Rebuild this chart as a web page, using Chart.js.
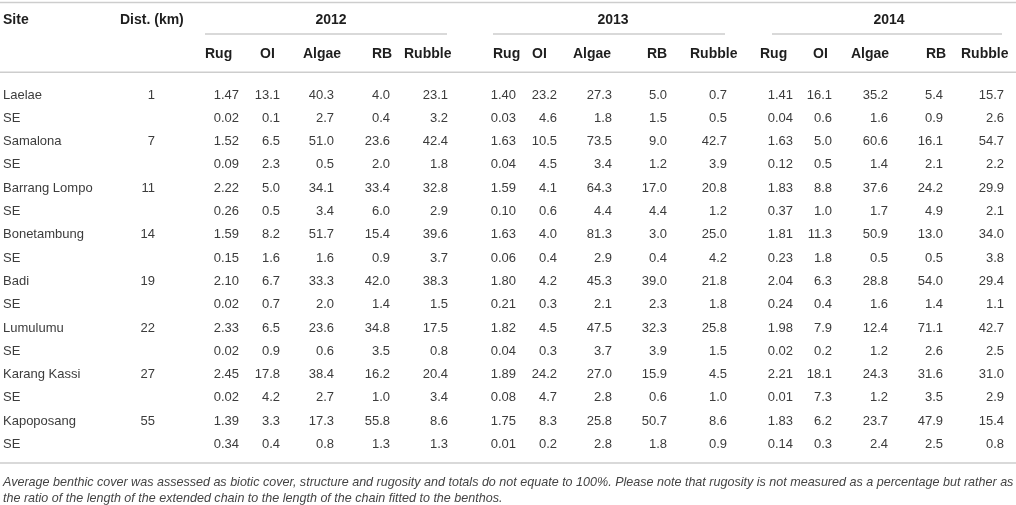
<!DOCTYPE html>
<html>
<head>
<meta charset="utf-8">
<script src="https://cdn.jsdelivr.net/npm/chart.js@4/dist/chart.umd.min.js"></script>
<style>
  html, body { margin: 0; padding: 0; background: #ffffff; }
  #wrap { width: 1016px; height: 505px; }
  canvas { display: block; }
</style>
</head>
<body>
<div id="wrap"><canvas id="c" width="1016" height="505" style="width:1016px;height:505px"></canvas></div>
<script>
// ---------------- DATA ----------------
const sites = ["Laelae", "Samalona", "Barrang Lompo", "Bonetambung", "Badi", "Lumulumu", "Karang Kassi", "Kapoposang"];
const distKm = [1, 7, 11, 14, 19, 22, 27, 55];
const years = ["2012", "2013", "2014"];
const measures = ["Rug", "OI", "Algae", "RB", "Rubble"];
const seLabel = "SE";
const headSite = "Site";
const headDist = "Dist. (km)";

// rows = sites; columns = Rug, OI, Algae, RB, Rubble
const mean2012 = [
  [1.47, 13.1, 40.3, 4.0, 23.1],
  [1.52, 6.5, 51.0, 23.6, 42.4],
  [2.22, 5.0, 34.1, 33.4, 32.8],
  [1.59, 8.2, 51.7, 15.4, 39.6],
  [2.10, 6.7, 33.3, 42.0, 38.3],
  [2.33, 6.5, 23.6, 34.8, 17.5],
  [2.45, 17.8, 38.4, 16.2, 20.4],
  [1.39, 3.3, 17.3, 55.8, 8.6]
];
const se2012 = [
  [0.02, 0.1, 2.7, 0.4, 3.2],
  [0.09, 2.3, 0.5, 2.0, 1.8],
  [0.26, 0.5, 3.4, 6.0, 2.9],
  [0.15, 1.6, 1.6, 0.9, 3.7],
  [0.02, 0.7, 2.0, 1.4, 1.5],
  [0.02, 0.9, 0.6, 3.5, 0.8],
  [0.02, 4.2, 2.7, 1.0, 3.4],
  [0.34, 0.4, 0.8, 1.3, 1.3]
];
const mean2013 = [
  [1.40, 23.2, 27.3, 5.0, 0.7],
  [1.63, 10.5, 73.5, 9.0, 42.7],
  [1.59, 4.1, 64.3, 17.0, 20.8],
  [1.63, 4.0, 81.3, 3.0, 25.0],
  [1.80, 4.2, 45.3, 39.0, 21.8],
  [1.82, 4.5, 47.5, 32.3, 25.8],
  [1.89, 24.2, 27.0, 15.9, 4.5],
  [1.75, 8.3, 25.8, 50.7, 8.6]
];
const se2013 = [
  [0.03, 4.6, 1.8, 1.5, 0.5],
  [0.04, 4.5, 3.4, 1.2, 3.9],
  [0.10, 0.6, 4.4, 4.4, 1.2],
  [0.06, 0.4, 2.9, 0.4, 4.2],
  [0.21, 0.3, 2.1, 2.3, 1.8],
  [0.04, 0.3, 3.7, 3.9, 1.5],
  [0.08, 4.7, 2.8, 0.6, 1.0],
  [0.01, 0.2, 2.8, 1.8, 0.9]
];
const mean2014 = [
  [1.41, 16.1, 35.2, 5.4, 15.7],
  [1.63, 5.0, 60.6, 16.1, 54.7],
  [1.83, 8.8, 37.6, 24.2, 29.9],
  [1.81, 11.3, 50.9, 13.0, 34.0],
  [2.04, 6.3, 28.8, 54.0, 29.4],
  [1.98, 7.9, 12.4, 71.1, 42.7],
  [2.21, 18.1, 24.3, 31.6, 31.0],
  [1.83, 6.2, 23.7, 47.9, 15.4]
];
const se2014 = [
  [0.04, 0.6, 1.6, 0.9, 2.6],
  [0.12, 0.5, 1.4, 2.1, 2.2],
  [0.37, 1.0, 1.7, 4.9, 2.1],
  [0.23, 1.8, 0.5, 0.5, 3.8],
  [0.24, 0.4, 1.6, 1.4, 1.1],
  [0.02, 0.2, 1.2, 2.6, 2.5],
  [0.01, 7.3, 1.2, 3.5, 2.9],
  [0.14, 0.3, 2.4, 2.5, 0.8]
];
const decimals = [2, 1, 1, 1, 1];
const footnoteLines = [
  "Average benthic cover was assessed as biotic cover, structure and rugosity and totals do not equate to 100%. Please note that rugosity is not measured as a percentage but rather as",
  "the ratio of the length of the extended chain to the length of the chain fitted to the benthos."
];

// ---------------- LAYOUT (positions / styles) ----------------
const L = {
  width: 1016,
  yMin: -4.08, yMax: 17.6,          // row units: data rows are 0..15
  topRule: -3.97, headRow1: -3.22, yearRule: -2.62, headRow2: -1.74, headRule: -0.98,
  bottomRule: 15.8, foot1: 16.62, foot2: 17.3,
  siteX: 3, distHeadX: 120, distRight: 155, footX: 3,
  valueRight: [[239, 280, 334, 390, 448], [516, 557, 612, 667, 727], [793, 832, 888, 943, 1004]],
  headLeft:   [[205, 260, 303, 372, 404], [493, 532, 573, 647, 690], [760, 813, 851, 926, 961]],
  yearSpan:   [[205, 447], [493, 725], [772, 1002]],
  yearCenter: [331, 613, 889],
  ruleColor: "#cdcdcd", ruleWidth: 1.6,
  bodyFont: "13px 'Liberation Sans', Arial, Helvetica, sans-serif",
  headFont: "bold 14px 'Liberation Sans', Arial, Helvetica, sans-serif",
  footFont: "italic 12.55px 'Liberation Sans', Arial, Helvetica, sans-serif",
  bodyColor: "#3c3c3c", headColor: "#1e1e1e", footColor: "#444444"
};

const meansByYear = [mean2012, mean2013, mean2014];
const seByYear = [se2012, se2013, se2014];

// ---------------- DATASETS ----------------
const datasets = [];
function textSet(points, texts, align, font, color) {
  datasets.push({ data: points, text: texts, align, font, color, pointRadius: 0, pointHoverRadius: 0, showLine: false });
}
function ruleSet(x0, x1, y) {
  datasets.push({ data: [{ x: x0, y }, { x: x1, y }], showLine: true, borderColor: L.ruleColor,
    borderWidth: L.ruleWidth, pointRadius: 0, pointHoverRadius: 0, fill: false });
}

// rules
ruleSet(0, L.width, L.topRule);
ruleSet(0, L.width, L.headRule);
ruleSet(0, L.width, L.bottomRule);
years.forEach((y, yi) => ruleSet(L.yearSpan[yi][0], L.yearSpan[yi][1], L.yearRule));

// header texts
textSet([{ x: L.siteX, y: L.headRow1 }], [headSite], "left", L.headFont, L.headColor);
textSet([{ x: L.distHeadX, y: L.headRow1 }], [headDist], "left", L.headFont, L.headColor);
textSet(years.map((y, yi) => ({ x: L.yearCenter[yi], y: L.headRow1 })), years, "center", L.headFont, L.headColor);
years.forEach((y, yi) => {
  textSet(measures.map((m, mi) => ({ x: L.headLeft[yi][mi], y: L.headRow2 })), measures, "left", L.headFont, L.headColor);
});

// site column
const rowTexts = [];
const rowPts = [];
sites.forEach((s, si) => {
  rowTexts.push(s, seLabel);
  rowPts.push({ x: L.siteX, y: 2 * si }, { x: L.siteX, y: 2 * si + 1 });
});
textSet(rowPts, rowTexts, "left", L.bodyFont, L.bodyColor);

// distance column
textSet(distKm.map((d, si) => ({ x: L.distRight, y: 2 * si })), distKm.map(String), "right", L.bodyFont, L.bodyColor);

// value columns
years.forEach((y, yi) => {
  measures.forEach((m, mi) => {
    const pts = [], txt = [];
    sites.forEach((s, si) => {
      pts.push({ x: L.valueRight[yi][mi], y: 2 * si });
      txt.push(meansByYear[yi][si][mi].toFixed(decimals[mi]));
      pts.push({ x: L.valueRight[yi][mi], y: 2 * si + 1 });
      txt.push(seByYear[yi][si][mi].toFixed(decimals[mi]));
    });
    textSet(pts, txt, "right", L.bodyFont, L.bodyColor);
  });
});

// footnote
textSet([{ x: L.footX, y: L.foot1 }, { x: L.footX, y: L.foot2 }], footnoteLines, "left", L.footFont, L.footColor);

// ---------------- PLUGIN: draw cell texts at scale positions ----------------
const tableText = {
  id: "tableText",
  afterDatasetsDraw(chart) {
    const ctx = chart.ctx;
    chart.data.datasets.forEach((ds, i) => {
      if (!ds.text) return;
      const meta = chart.getDatasetMeta(i);
      ctx.save();
      ctx.font = ds.font;
      ctx.fillStyle = ds.color;
      ctx.textAlign = ds.align;
      ctx.textBaseline = "middle";
      meta.data.forEach((el, k) => ctx.fillText(ds.text[k], el.x, el.y));
      ctx.restore();
    });
  }
};

new Chart(document.getElementById("c"), {
  type: "scatter",
  data: { datasets },
  options: {
    responsive: false,
    animation: false,
    events: [],
    layout: { padding: 0 },
    plugins: { legend: { display: false }, tooltip: { enabled: false }, title: { display: false } },
    scales: {
      x: { type: "linear", min: 0, max: L.width, display: false },
      y: { type: "linear", min: L.yMin, max: L.yMax, reverse: true, display: false }
    },
    clip: false
  },
  plugins: [tableText]
});
</script>
</body>
</html>
